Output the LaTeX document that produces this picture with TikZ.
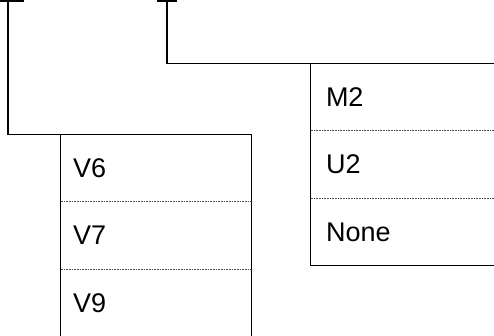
\documentclass[tikz,border=0pt]{standalone}
\usepackage{fontspec}
\setmainfont{Liberation Sans}
\usetikzlibrary{positioning}

\begin{document}
\begin{tikzpicture}[
    x=1pt, y=1pt,
    cell/.style={rectangle, minimum height=67pt, inner sep=0pt, text depth=0pt, font=\fontsize{27}{32}\selectfont},
    lcell/.style={cell, minimum width=190pt, text width=166pt, align=left},
    rcell/.style={cell, minimum width=200pt, text width=170pt, align=left},
    frame/.style={draw=black, line width=1.2pt},
    divider/.style={draw=black!70, line width=0.6pt, densely dotted},
    link/.style={draw=black, line width=1.3pt}
]

\useasboundingbox (0,0) rectangle (494,-336);
\clip (0,0) rectangle (494,-336);

% Left group
\node[lcell] (v6) at (156,-168) {V6};
\node[lcell, below=0pt of v6] (v7) {V7};
\node[lcell, below=0pt of v7] (v9) {V9};
\draw[frame] (v9.south west) -- (v6.north west) -- (v6.north east) -- (v9.south east);
\draw[divider] (v6.south west) -- (v6.south east);
\draw[divider] (v7.south west) -- (v7.south east);

% Right group
\node[rcell] (m2) at (411,-97) {M2};
\node[rcell, below=0pt of m2] (u2) {U2};
\node[rcell, below=0pt of u2] (none) {None};
\draw[frame] (m2.north east) -- (m2.north west) -- (none.south west) -- (none.south east);
\draw[divider] (m2.south west) -- (m2.south east);
\draw[divider] (u2.south west) -- (u2.south east);

% Tree links
\coordinate (lroot) at (8,-1);
\coordinate (rroot) at (167,-1);
\draw[link] ([xshift=-8pt]lroot) -- ([xshift=16pt]lroot);
\draw[link] ([xshift=-10pt]rroot) -- ([xshift=10pt]rroot);
\draw[link] (lroot) |- (v6.north west);
\draw[link] (rroot) |- (m2.north west);

\end{tikzpicture}
\end{document}
